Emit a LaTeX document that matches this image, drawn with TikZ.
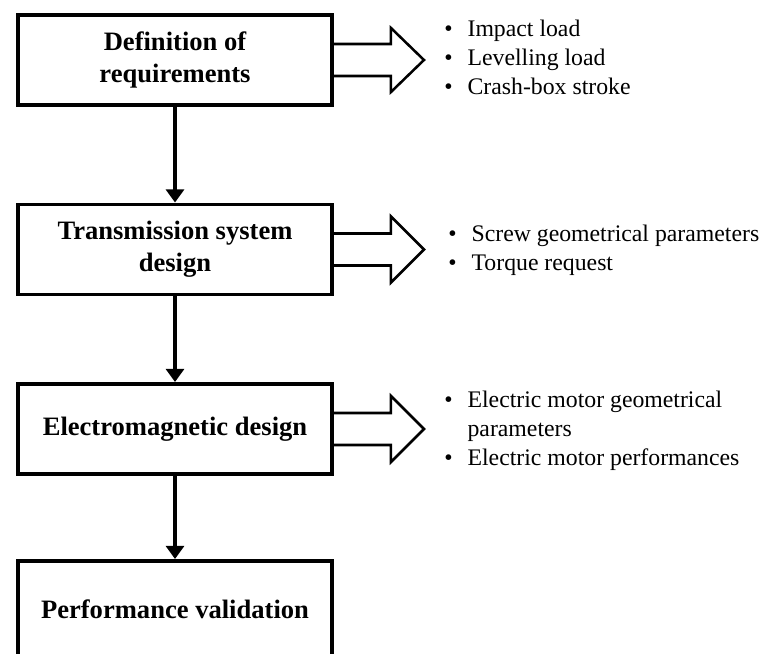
\documentclass[tikz,border=0pt]{standalone}
\usepackage{fontspec}
\setmainfont{Liberation Serif}
\usetikzlibrary{arrows.meta}

\tikzset{
    stage/.style={draw=black, line width=2.8pt, minimum width=7.85cm, minimum height=2.25cm, align=center, font=\fontsize{18.9pt}{22.8pt}\selectfont\bfseries},
    outlist/.style={anchor=west, inner sep=0pt, font=\fontsize{16.9pt}{20.6pt}\selectfont},
    flow/.style={-{Triangle[length=0.33cm, width=0.45cm]}, line width=2.8pt},
    hollow/.style={draw=black, line width=1.8pt, line join=miter}
}

\begin{document}
\begin{tikzpicture}
    \clip (0, 0) rectangle (19, 16.325);

    \node[stage] (req) at (4.375, 14.825) {Definition of\\requirements};
    \node[stage] (trans) at (4.375, 10.0875) {Transmission system\\design};
    \node[stage] (emag) at (4.375, 5.6) {Electromagnetic design};
    \node[stage, minimum height=2.4cm] (valid) at (4.375, 1.1) {Performance validation};

    \node[outlist] (reqout) at (11.1, 14.825) {\begin{tabular}{@{}l@{\hspace{0.375cm}}l@{}}
        \textbullet & Impact load\\
        \textbullet & Levelling load\\
        \textbullet & Crash-box stroke
    \end{tabular}};
    \node[outlist] (transout) at (11.2, 10.075) {\begin{tabular}{@{}l@{\hspace{0.375cm}}l@{}}
        \textbullet & Screw geometrical parameters\\
        \textbullet & Torque request
    \end{tabular}};
    \node[outlist] (emagout) at (11.1, 5.55) {\begin{tabular}{@{}l@{\hspace{0.375cm}}l@{}}
        \textbullet & Electric motor geometrical\\
                    & parameters\\
        \textbullet & Electric motor performances
    \end{tabular}};

    \draw[flow] (req) -- (trans);
    \draw[flow] (trans) -- (emag);
    \draw[flow] (emag) -- (valid);

    \draw[hollow] ([yshift=0.4cm]req.east) -- ++(1.425, 0) -- ++(0, 0.4) -- ++(0.825, -0.8) -- ++(-0.825, -0.8) -- ++(0, 0.4) -- ++(-1.425, 0);
    \draw[hollow] ([yshift=0.4cm]trans.east) -- ++(1.425, 0) -- ++(0, 0.425) -- ++(0.825, -0.825) -- ++(-0.825, -0.825) -- ++(0, 0.425) -- ++(-1.425, 0);
    \draw[hollow] ([yshift=0.4cm]emag.east) -- ++(1.425, 0) -- ++(0, 0.425) -- ++(0.825, -0.825) -- ++(-0.825, -0.825) -- ++(0, 0.425) -- ++(-1.425, 0);

\end{tikzpicture}
\end{document}
